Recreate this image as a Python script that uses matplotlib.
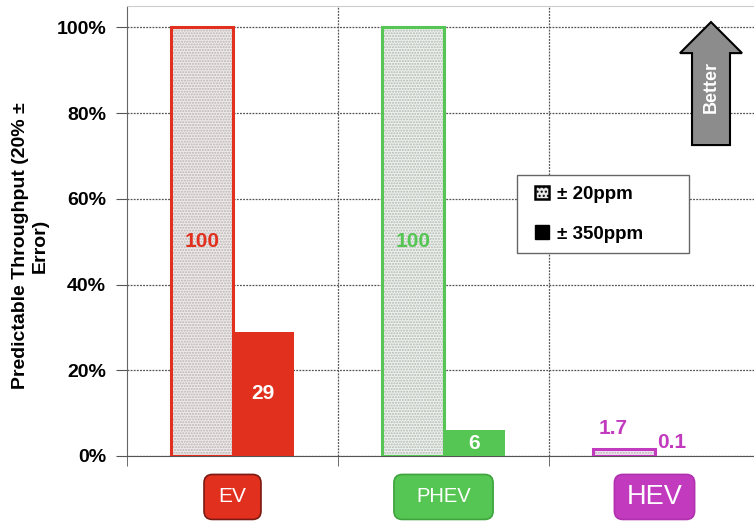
import numpy as np
import matplotlib.pyplot as plt
from matplotlib.patches import Patch, FancyArrow, FancyBboxPatch, Rectangle
from matplotlib.legend_handler import HandlerPatch

plt.rcParams['font.family'] = ['Liberation Sans', 'DejaVu Sans']

# data: predictable throughput (%) per vehicle type
vehicles = ["EV", "PHEV", "HEV"]
ppm20 = [100, 100, 1.7]     # +/- 20ppm
ppm350 = [29, 6, 0.1]       # +/- 350ppm
val_20 = ["100", "100", "1.7"]
val_350 = ["29", "6", "0.1"]

colors = ["#e2301f", "#55c653", "#c23bbf"]
tints = ["#f1e9e9", "#ecf3ec", "#f6e8f6"]
box_edges = ["#7a1a12", "#3fa33e", "#b030ad"]

fig = plt.figure(figsize=(7.54, 5.25), dpi=100)
ax = fig.add_axes([127/754, 69/525, 633/754, 450/525])

x = np.arange(len(vehicles))
w = 0.29
off = 0.145

# stippled bars: dotted fill first, coloured outline on top
ax.bar(x - off, ppm20, w, color=tints, edgecolor="#b5b5b5", hatch="......", linewidth=0, zorder=3)
ax.bar(x - off, ppm20, w, fill=False, edgecolor=colors, linewidth=2.2, zorder=4)
ax.bar(x + off, ppm350, w, color=colors, linewidth=0, zorder=3)

# value labels: inside tall bars, just above the short ones
for i in range(len(vehicles)):
    if ppm20[i] > 10:
        ax.text(x[i] - off, ppm20[i] / 2, val_20[i], color=colors[i], fontsize=15,
                fontweight="bold", ha="center", va="center", zorder=5)
    else:
        ax.text(x[i] - off - 0.05, ppm20[i] + 2.6, val_20[i], color=colors[i], fontsize=15,
                fontweight="bold", ha="center", va="bottom", zorder=5)
    if ppm350[i] > 5:
        ax.text(x[i] + off, ppm350[i] / 2, val_350[i], color="white", fontsize=15,
                fontweight="bold", ha="center", va="center", zorder=5)
    else:
        ax.text(x[i] + off - 0.065, ppm350[i] + 0.8, val_350[i], color=colors[i], fontsize=15,
                fontweight="bold", ha="center", va="bottom", zorder=5)

# category labels in rounded boxes (x in data units, y in axes units)
trans = ax.get_xaxis_transform()
sizes = [15, 14.5, 19.5]
box_w = [0.27, 0.47, 0.38]
box_h = 0.1
for i, name in enumerate(vehicles):
    box = FancyBboxPatch((x[i] - box_w[i] / 2, -0.091 - box_h / 2), box_w[i], box_h,
                         boxstyle="round,pad=0,rounding_size=0.04", mutation_aspect=211/450,
                         transform=trans, facecolor=colors[i], edgecolor=box_edges[i],
                         linewidth=1.2, clip_on=False)
    ax.add_patch(box)
    ax.text(x[i], -0.091, name, transform=trans, ha="center", va="center",
            color="white", fontsize=sizes[i])

ax.set_xlim(-0.5, 2.5)
ax.set_ylim(0, 105)
ax.set_yticks([0, 20, 40, 60, 80, 100])
ax.set_yticklabels(["%d%%" % v for v in [0, 20, 40, 60, 80, 100]], fontsize=14, fontweight="bold")
ax.set_xticks([])
ax.set_xticks([-0.5, 0.5, 1.5, 2.5], minor=True)
ax.tick_params(axis="x", which="minor", length=7, direction="out", color="#555555")
ax.tick_params(axis="y", length=8, direction="out", color="#555555", pad=7)

ax.grid(axis="y", color="#555555", linestyle=(0, (1.5, 1)), linewidth=0.9, zorder=0)
for b in [0.5, 1.5]:
    ax.axvline(b, color="#555555", linestyle=(0, (1.5, 1)), linewidth=0.9, zorder=0)
ax.set_axisbelow(True)

ax.spines["left"].set_color("#666666")
ax.spines["bottom"].set_color("#555555")
ax.spines["top"].set_color("#cccccc")
ax.spines["right"].set_visible(False)

ax.set_ylabel("Predictable Throughput (20% ±\nError)", fontsize=14, fontweight="bold", va="center")
ax.yaxis.set_label_coords(-0.153, 0.467)


# legend with small squares sitting at the right of the handle box
def square(legend, orig_handle, xdescent, ydescent, width, height, fontsize):
    s = height
    return Rectangle((-xdescent + width - s, -ydescent), s, s)


handles = [Patch(facecolor="#e8e8e8", edgecolor="black", hatch="....", linewidth=1.8),
           Patch(facecolor="black", edgecolor="black")]
leg = ax.legend(handles, ["± 20ppm", "± 350ppm"], loc="upper left",
                bbox_to_anchor=(0.616, 0.446, 0.272, 0.178), mode="expand",
                prop=dict(weight="bold", size=13.5), handlelength=1.15, handleheight=0.75,
                handletextpad=0.45, labelspacing=1.2, borderpad=0.55, borderaxespad=0,
                fancybox=False, edgecolor="#666666", framealpha=1,
                handler_map={Patch: HandlerPatch(patch_func=square)})
leg.get_frame().set_linewidth(1.0)

# "Better" arrow
arrow = FancyArrow(0.9226, 0.691, 0, 0.2733, width=0.06, head_width=0.098,
                   head_length=0.069, length_includes_head=True, transform=ax.transAxes,
                   facecolor="#8c8c8c", edgecolor="black", linewidth=1.5, zorder=6)
ax.add_patch(arrow)
ax.text(0.9226, 0.82, "Better", transform=ax.transAxes, rotation=90, color="white",
        fontsize=13, fontweight="bold", ha="center", va="center", zorder=7)

fig.savefig("out.png", dpi=100)
